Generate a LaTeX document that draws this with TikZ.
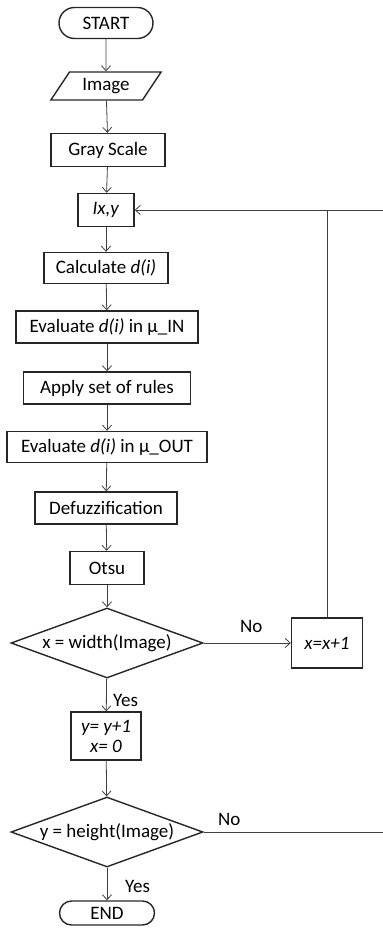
\documentclass[tikz,border=0pt]{standalone}
\usepackage{fontspec}
\setmainfont{Carlito}
\usetikzlibrary{arrows.meta,shapes.geometric,shapes.misc}

\begin{document}
\begin{tikzpicture}[x=1pt,y=-1pt,font=\fontsize{19}{22}\selectfont]
\tikzstyle{terminal} = [rounded rectangle, draw=black!85, line width=1.4pt,
inner sep=0pt, minimum height=31pt]
\tikzstyle{io} = [trapezium, trapezium left angle=52, trapezium right angle=128,
trapezium stretches=true, draw=black!85, line width=1.4pt, inner sep=0pt, minimum height=28pt]
\tikzstyle{block} = [rectangle, draw=black!85, line width=1.4pt,
inner sep=0pt, minimum height=32pt]
\tikzstyle{decision} = [diamond, shape aspect=2.74, draw=black!85, line width=1.4pt,
inner sep=0pt, minimum width=192pt, minimum height=70pt]
\tikzstyle{line} = [draw, gray!50!black, line width=0.8pt, -{Straight Barb[length=5pt,width=9pt]}];
\tikzstyle{wire} = [draw, gray!50!black, line width=0.8pt];
\tikzstyle{lbl} = [anchor=west, inner sep=0pt];

\useasboundingbox (0,0) rectangle (383,935);

% main column
\node [terminal, minimum width=94pt] (start) at (106,23) {START};
\node [io, minimum width=111pt] (img) at (106,86) {Image};
\node [block, minimum width=114pt, minimum height=33pt] (gray) at (108,150) {Gray Scale};
\node [block, minimum width=56pt, minimum height=33pt] (ixy) at (106,210) {\textit{Ix,y}};
\node [block, minimum width=124pt, minimum height=31pt] (calc) at (106,268) {Calculate \textit{d(i)}};
\node [block, minimum width=182pt] (evin) at (107,327) {Evaluate \textit{d(i)} in μ\_IN};
\node [block, minimum width=167pt] (rules) at (107,388) {Apply set of rules};
\node [block, minimum width=200pt, minimum height=31pt] (evout) at (107,447) {Evaluate \textit{d(i)} in μ\_OUT};
\node [block, minimum width=142pt] (defuzz) at (106,508) {Defuzzification};
\node [block, minimum width=74pt, minimum height=33pt] (otsu) at (107,568) {Otsu};
\node [decision] (wdec) at (107,643) {x = width(Image)};
\node [block, minimum width=71pt, minimum height=50pt] (xinc) at (327,643) {\textit{x=x+1}};
\node [block, minimum width=70pt, minimum height=48pt, align=center] (yinc) at (106,736) {\textit{y= y+1}\\[-2pt]\textit{x= 0}};
\node [decision] (hdec) at (107,832) {y = height(Image)};
\node [terminal, minimum width=95pt, minimum height=24pt] (stop) at (107,913) {END};

% loop ends at the right border
\coordinate (wback) at (383,210);
\coordinate (hback) at (383,832);

% labels
\node [lbl] (wno) at (240,626) {No};
\node [lbl] (wyes) at (113,700) {Yes};
\node [lbl] (hno) at (218,819) {No};
\node [lbl] (hyes) at (125,886) {Yes};

\path [line] (start) -- (img);
\path [line] (img) -- (gray);
\path [line] (gray) -- (ixy);
\path [line] (ixy) -- (calc);
\path [line] (calc) -- (evin);
\path [line] (evin) -- (rules);
\path [line] (rules) -- (evout);
\path [line] (evout) -- (defuzz);
\path [line] (defuzz) -- (otsu);
\path [line] (otsu) -- (wdec);
\path [line] (wdec) -- (xinc);
\path [wire] (xinc) -- (xinc |- wback);
\path [line] (wback) -- (ixy);
\path [line] (wdec) -- (yinc);
\path [line] (yinc) -- (hdec);
\path [wire] (hdec) -- (hback);
\path [line] (hdec) -- (stop);

\end{tikzpicture}
\end{document}
